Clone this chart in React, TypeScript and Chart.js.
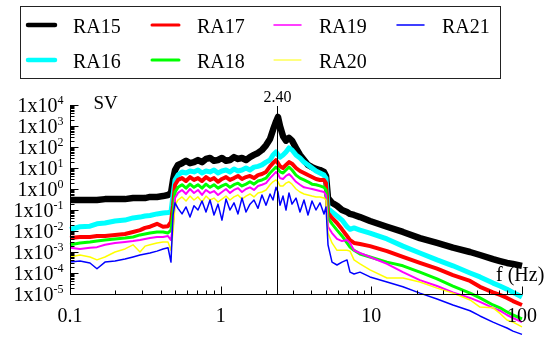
import React, { useEffect, useRef } from 'react';
import { Chart, registerables } from 'chart.js';

Chart.register(...registerables);

// Frequency (Hz)
const FREQ = [
  0.1, 0.1165, 0.1357, 0.151, 0.1707, 0.199, 0.2317, 0.262, 0.2915, 0.3146, 0.3396, 0.378, 0.4144, 0.447, 0.468, 0.483, 0.498,
  0.521, 0.554, 0.589, 0.626, 0.665, 0.707, 0.752, 0.799, 0.85, 0.903,
  0.96, 1.02, 1.085, 1.153, 1.226, 1.303, 1.385, 1.473, 1.565, 1.664,
  1.769, 1.88, 2.0, 2.126, 2.225, 2.329, 2.401, 2.476, 2.593, 2.714,
  2.841, 2.975, 3.162, 3.361, 3.573, 3.798, 4.038, 4.292, 4.563, 4.851,
  5.002,
  5.158, 5.483, 5.917, 6.387, 6.894, 7.219, 7.674, 8.41, 9.8, 12.7, 16.2, 21.0, 27.3, 34.8, 45.2, 52.6, 64.2, 71.4, 79.5, 87.1, 100,
];

const RA15 = [
  0.30, 0.30, 0.30, 0.30, 0.33, 0.33, 0.33, 0.37, 0.37, 0.37, 0.42, 0.42, 0.46, 0.52, 0.65, 2.7, 8.0,
  14, 17, 22, 17, 19, 24, 19, 27, 30, 22,
  24, 30, 22, 24, 33, 27, 30, 24, 33, 42,
  52, 72, 120, 240, 650, 1600, 2700, 1000, 330, 200,
  270, 200, 90, 42, 24, 14, 11, 9.0, 8.0, 6.5,
  4.2,
  0.37, 0.22, 0.16, 0.10, 0.08, 0.065, 0.058, 0.046, 0.030, 0.016, 0.009, 0.0046, 0.0027, 0.0016, 0.001, 0.00072, 0.00046, 0.00037, 0.0003, 0.00027, 0.00022,
];

const RA16 = [
  0.012, 0.016, 0.017, 0.022, 0.024, 0.030, 0.033, 0.042, 0.046, 0.052, 0.055, 0.065, 0.072, 0.076, 0.080, 0.52, 2.7,
  4.6, 6.5, 5.8, 7.2, 6.5, 8.0, 5.8, 7.2, 6.5, 8.0,
  5.8, 7.2, 8.0, 6.5, 9.0, 7.2, 8.0, 10, 8.0, 11,
  12, 14, 19, 24, 42, 58, 42, 33, 42, 58,
  90, 72, 42, 30, 19, 14, 10, 7.2, 5.8, 4.6,
  3.3,
  0.12, 0.08, 0.052, 0.033, 0.016, 0.012, 0.014, 0.011, 0.008, 0.0042, 0.0019, 0.0009, 0.00042, 0.00022, 0.0001, 6.5e-5, 3.3e-5, 2.4e-5, 1.7e-5, 1.2e-5, 7.2e-6,
];

const RA17 = [
  4.6e-3, 5.2e-3, 5.2e-3, 5.8e-3, 5.8e-3, 6.5e-3, 7.2e-3, 9.0e-3, 1.1e-2, 1.4e-2, 1.6e-2, 2.2e-2, 1.6e-2, 1.7e-2, 2.7e-2, 0.17, 1.6,
  2.7, 3.3, 2.4, 3.7, 2.7, 3.3, 2.4, 3.7, 2.7, 3.3,
  2.2, 3.0, 3.7, 2.7, 3.3, 4.2, 3.0, 3.7, 4.2, 3.3,
  4.6, 5.2, 6.5, 12, 17, 24, 17, 12, 10, 14,
  19, 16, 10, 7.2, 5.8, 4.6, 3.7, 3.0, 2.7, 2.7,
  1.9,
  7.2e-2, 4.2e-2, 2.4e-2, 1.2e-2, 5.8e-3, 3.7e-3, 2.7e-3, 2.4e-3, 1.9e-3, 1.1e-3, 5.8e-4, 3.0e-4, 1.6e-4, 8.0e-5, 4.2e-5, 2.2e-5, 1.2e-5, 9.0e-6, 6.5e-6, 4.6e-6, 3.0e-6,
];

const RA18 = [
  2.2e-3, 2.7e-3, 3.0e-3, 3.3e-3, 3.7e-3, 4.2e-3, 4.6e-3, 5.2e-3, 6.5e-3, 7.2e-3, 8.0e-3, 9.0e-3, 9.0e-3, 8.0e-3, 1.1e-2, 8.0e-2, 0.72,
  1.2, 1.6, 1.1, 1.7, 1.2, 1.6, 1.1, 1.7, 1.2, 1.6,
  1.1, 1.4, 1.7, 1.2, 1.6, 1.9, 1.4, 1.7, 2.2, 1.7,
  2.4, 2.7, 3.3, 5.8, 8.0, 11, 9.0, 6.5, 5.8, 8.0,
  11, 8.0, 4.6, 3.3, 2.7, 2.2, 1.7, 1.6, 1.4, 1.2,
  0.9,
  4.2e-2, 2.2e-2, 1.1e-2, 5.8e-3, 2.7e-3, 1.7e-3, 1.2e-3, 8.0e-4, 5.8e-4, 3.3e-4, 2.2e-4, 1.1e-4, 5.2e-5, 2.4e-5, 1.1e-5, 6.5e-6, 3.0e-6, 2.2e-6, 1.4e-6, 1.0e-6, 6.5e-7,
];

const RA19 = [
  1.6e-3, 1.4e-3, 1.6e-3, 1.7e-3, 2.2e-3, 2.7e-3, 3.0e-3, 3.3e-3, 3.7e-3, 4.2e-3, 4.6e-3, 5.2e-3, 5.2e-3, 5.8e-3, 3.7e-3, 1.9e-2, 0.37,
  0.65, 0.9, 0.58, 1.0, 0.65, 0.9, 0.52, 0.9, 0.65, 0.8,
  0.52, 0.72, 1.0, 0.65, 0.9, 1.1, 0.72, 1.0, 1.2, 0.9,
  1.4, 1.6, 1.9, 3.3, 4.6, 6.5, 5.2, 3.3, 3.0, 4.2,
  5.2, 3.7, 2.2, 1.6, 1.2, 1.1, 1.0, 0.9, 0.8, 0.72,
  0.52,
  1.6e-2, 8.0e-3, 4.2e-3, 3.3e-3, 3.7e-3, 2.7e-3, 1.2e-3, 9.0e-4, 5.8e-4, 2.7e-4, 1.1e-4, 4.6e-5, 2.4e-5, 1.2e-5, 6.5e-6, 4.2e-6, 2.2e-6, 1.6e-6, 1.0e-6, 7.2e-7, 4.6e-7,
];

const RA20 = [
  5.8e-4, 7.2e-4, 5.8e-4, 4.2e-4, 5.8e-4, 1.0e-3, 1.4e-3, 2.2e-3, 1.0e-3, 1.9e-3, 2.2e-3, 2.7e-3, 3.0e-3, 3.0e-3, 1.2e-3, 9.0e-3, 0.17,
  0.30, 0.42, 0.27, 0.46, 0.30, 0.42, 0.24, 0.46, 0.30, 0.37,
  0.24, 0.33, 0.46, 0.30, 0.42, 0.52, 0.33, 0.46, 0.58, 0.42,
  0.65, 0.72, 0.9, 1.6, 2.2, 2.7, 2.2, 1.4, 1.4, 1.9,
  2.2, 1.7, 1.0, 0.72, 0.58, 0.52, 0.46, 0.42, 0.42, 0.37,
  0.30,
  8.0e-3, 2.7e-3, 1.2e-3, 1.2e-3, 1.2e-3, 1.1e-3, 4.2e-4, 2.7e-4, 1.4e-4, 5.8e-5, 5.8e-5, 3.7e-5, 1.9e-5, 1.1e-5, 5.2e-6, 2.4e-6, 2.2e-6, 1.2e-6, 5.8e-7, 4.6e-7, 2.7e-7,
];

const RA21 = [
  3.3e-4, 3.7e-4, 3.0e-4, 1.6e-4, 3.3e-4, 3.7e-4, 4.6e-4, 5.8e-4, 7.2e-4, 8.0e-4, 9.0e-4, 1.1e-3, 1.4e-3, 1.6e-3, 3.3e-4, 5.8e-2, 0.22,
  0.12, 6.5e-2, 0.14, 4.6e-2, 0.16, 0.10, 0.27, 8.0e-2, 0.30, 5.8e-2,
  0.19, 3.3e-2, 0.33, 0.10, 0.22, 6.5e-2, 0.37, 8.0e-2, 0.19, 0.30,
  0.12, 0.52, 0.17, 0.58, 0.30, 1.2, 0.72, 0.17, 0.46, 0.10,
  0.65, 0.19, 0.37, 8.0e-2, 0.30, 5.8e-2, 0.27, 0.10, 0.22, 6.5e-2,
  0.14,
  2.2e-3, 3.3e-4, 2.4e-4, 3.3e-4, 4.2e-4, 1.1e-4, 9.0e-5, 1.1e-4, 6.5e-5, 3.7e-5, 2.2e-5, 1.1e-5, 5.8e-6, 3.0e-6, 1.6e-6, 9.0e-7, 4.6e-7, 3.3e-7, 2.4e-7, 1.7e-7, 1.2e-7,
];

const SERIES = [RA15, RA16, RA17, RA18, RA19, RA20, RA21];
const SERIES_LABELS = ['RA15', 'RA16', 'RA17', 'RA18', 'RA19', 'RA20', 'RA21'];
const SERIES_COLORS = ['#000000', '#00ffff', '#ff0000', '#00ff00', '#ff00ff', '#ffff00', '#0000ff'];
const LINE_WIDTHS = [6.5, 5, 4, 3, 2, 1.5, 1.5];
const LEGEND_WIDTHS = [4.5, 4.5, 3, 3, 1.5, 1, 1.5];

const Y_TICK_EXPONENTS = [4, 3, 2, 1, 0, -1, -2, -3, -4, -5];
const X_TICK_VALUES = [0.1, 1, 10, 100];
const X_TICK_LABELS = ['0.1', '1', '10', '100'];
const Y_TITLE = 'SV';
const X_TITLE = 'f (Hz)';
const PEAK_FREQ = 2.4;
const PEAK_LABEL = '2.40';

const SERIF = '"Liberation Serif", "DejaVu Serif", serif';

const decorPlugin = {
  id: 'decor',
  afterDraw(chart: any) {
    const ctx = chart.ctx as CanvasRenderingContext2D;
    const xs = chart.scales.x;
    const ys = chart.scales.y;
    const left = Math.round(xs.left) + 0.5;
    const right = xs.right;
    const top = ys.top;
    const bottom = Math.round(ys.bottom) + 0.5;
    ctx.save();
    ctx.strokeStyle = '#000';
    ctx.fillStyle = '#000';
    ctx.lineWidth = 1;

    // axis lines
    ctx.beginPath();
    ctx.moveTo(left, top);
    ctx.lineTo(left, bottom);
    ctx.lineTo(right, bottom);
    ctx.stroke();

    // y ticks (inward)
    const eMax = Math.max(...Y_TICK_EXPONENTS);
    const eMin = Math.min(...Y_TICK_EXPONENTS);
    ctx.beginPath();
    for (let e = eMin; e <= eMax; e++) {
      for (let m = 1; m <= 9; m++) {
        if (e === eMax && m > 1) break;
        const py = Math.round(ys.getPixelForValue(m * Math.pow(10, e))) + 0.5;
        const len = m === 1 ? 8 : 4;
        ctx.moveTo(left, py);
        ctx.lineTo(left + len, py);
      }
    }
    // x ticks (inward)
    const xMinExp = Math.round(Math.log10(X_TICK_VALUES[0]));
    const xMaxExp = Math.round(Math.log10(X_TICK_VALUES[X_TICK_VALUES.length - 1]));
    for (let e = xMinExp; e <= xMaxExp; e++) {
      for (let m = 1; m <= 9; m++) {
        if (e === xMaxExp && m > 1) break;
        const px = Math.round(xs.getPixelForValue(m * Math.pow(10, e))) + 0.5;
        const len = m === 1 ? 8 : 4;
        ctx.moveTo(px, bottom);
        ctx.lineTo(px, bottom - len);
      }
    }
    ctx.stroke();

    // y tick labels with superscript exponent
    const labelRight = left - 7;
    Y_TICK_EXPONENTS.forEach((e) => {
      const py = ys.getPixelForValue(Math.pow(10, e));
      const sup = String(e);
      ctx.font = `12px ${SERIF}`;
      const supW = ctx.measureText(sup).width;
      ctx.textAlign = 'left';
      ctx.textBaseline = 'alphabetic';
      ctx.fillText(sup, labelRight - supW, py - 1.5);
      ctx.font = `20px ${SERIF}`;
      ctx.textAlign = 'right';
      ctx.fillText('1x10', labelRight - supW, py + 7);
    });

    // x tick labels
    ctx.font = `20px ${SERIF}`;
    ctx.textAlign = 'center';
    ctx.textBaseline = 'alphabetic';
    X_TICK_VALUES.forEach((v, i) => {
      const px = xs.getPixelForValue(v);
      ctx.fillText(X_TICK_LABELS[i], px, bottom + 27);
    });

    // axis titles
    ctx.font = `19px ${SERIF}`;
    ctx.textAlign = 'left';
    ctx.fillText(Y_TITLE, left + 23, top + 4);
    ctx.font = `20px ${SERIF}`;
    ctx.fillText(X_TITLE, right - 26, bottom - 14);

    // peak marker
    const pxPeak = Math.round(xs.getPixelForValue(PEAK_FREQ)) - 0.5;
    ctx.beginPath();
    ctx.moveTo(pxPeak, top + 1);
    ctx.lineTo(pxPeak, bottom);
    ctx.stroke();
    ctx.font = `16px ${SERIF}`;
    ctx.textAlign = 'center';
    ctx.fillText(PEAK_LABEL, pxPeak, top - 3);

    // legend box
    const boxL = 20.5, boxT = 6.5, boxW = 480, boxH = 72;
    ctx.strokeStyle = '#222';
    ctx.lineWidth = 1;
    ctx.strokeRect(boxL, boxT, boxW, boxH);
    const colX = [28, 152, 274, 397];
    const rowY = [25, 60];
    ctx.font = `20px ${SERIF}`;
    ctx.textAlign = 'left';
    ctx.textBaseline = 'alphabetic';
    ctx.lineCap = 'round';
    SERIES_LABELS.forEach((lab, i) => {
      const c = Math.floor(i / 2);
      const r = i % 2;
      const x0 = colX[c];
      const y0 = rowY[r];
      ctx.strokeStyle = SERIES_COLORS[i];
      ctx.lineWidth = LEGEND_WIDTHS[i];
      ctx.beginPath();
      ctx.moveTo(x0, y0);
      ctx.lineTo(x0 + 27, y0);
      ctx.stroke();
      ctx.fillStyle = '#000';
      ctx.fillText(lab, x0 + 45, y0 + 8);
    });
    ctx.restore();
  },
};

export default function App() {
  const canvasRef = useRef<HTMLCanvasElement | null>(null);

  useEffect(() => {
    const canvas = canvasRef.current;
    if (!canvas) return;
    const datasets = SERIES.map((vals, i) => ({
      label: SERIES_LABELS[i],
      data: FREQ.map((f, j) => ({ x: f, y: vals[j] })),
      borderColor: SERIES_COLORS[i],
      backgroundColor: SERIES_COLORS[i],
      borderWidth: LINE_WIDTHS[i],
      pointRadius: 0,
      tension: 0,
      fill: false,
      clip: false as any,
      order: SERIES.length - i,
      borderJoinStyle: 'round' as const,
    }));
    const chart = new Chart(canvas, {
      type: 'line',
      data: { datasets },
      options: {
        responsive: false,
        animation: false,
        devicePixelRatio: 1,
        layout: { padding: { left: 70, right: 26, top: 105, bottom: 43 } },
        plugins: { legend: { display: false }, tooltip: { enabled: false } },
        scales: {
          x: { type: 'logarithmic', min: 0.1, max: 100, display: false },
          y: { type: 'logarithmic', min: 1e-5, max: 1e4, display: false },
        },
      },
      plugins: [decorPlugin],
    });
    return () => chart.destroy();
  }, []);

  return (
    <div style={{ position: 'fixed', left: 0, top: 0, width: 548, height: 337, background: '#fff' }}>
      <canvas ref={canvasRef} width={548} height={337} style={{ display: 'block' }} />
    </div>
  );
}
